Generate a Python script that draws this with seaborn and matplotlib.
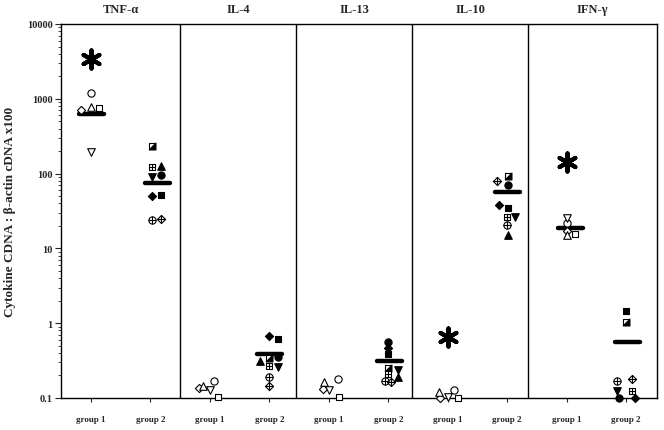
import numpy as np
import pandas as pd
import seaborn as sns
import matplotlib
matplotlib.use("Agg")
import matplotlib.pyplot as plt

# ---- data ----
cytokines = ["TNF-α", "IL-4", "IL-13", "IL-10", "IFN-γ"]
group_labels = ["group 1", "group 2"]

g1_symbols = ["circle", "diamond", "triangle", "square", "tri_down"]
g2_symbols = ["half_square", "boxed_plus", "tri_fill", "tri_down_fill", "circle_fill",
              "diamond_fill", "square_fill", "circle_plus", "diamond_plus"]

tnf_g1 = [1200, 700, 770, 750, 195]
il4_g1 = [0.169, 0.136, 0.145, 0.103, 0.128]
il13_g1 = [0.179, 0.132, 0.164, 0.103, 0.128]
il10_g1 = [0.128, 0.10, 0.12, 0.10, 0.103]
ifn_g1 = [21.8, 17, 15.1, 15.6, 25.5]

tnf_g2 = [234, 122, 125, 90, 95, 50, 52, 24, 25]
il4_g2 = [0.343, 0.268, 0.313, 0.259, 0.353, 0.675, 0.615, 0.191, 0.145]
il13_g2 = [0.252, 0.209, 0.19, 0.24, 0.56, 0.466, 0.387, 0.169, 0.164]
il10_g2 = [93, 26, 15, 26, 70, 38, 35, 20.5, 80]
ifn_g2 = [1.04, 0.124, np.nan, 0.124, 0.1, 0.1, 1.46, 0.169, 0.179]

means_g1 = [630, np.nan, np.nan, np.nan, 18.7]
means_g2 = [75, 0.387, 0.313, 57, 0.56]
asterisk_g1 = [3400, np.nan, np.nan, 0.65, 143]

# ---- layout: horizontal nudges so overlapping symbols stay visible ----
nudge_g1 = [[0, -0.17, 0, 0.14, 0],
            [0.07, -0.18, -0.12, 0.14, 0],
            [0.15, -0.10, -0.08, 0.17, 0],
            [0.10, -0.13, -0.15, 0.17, 0],
            [0, 0, 0, 0.14, 0]]
nudge_g2 = [[0.03, 0.02, 0.18, 0.02, 0.17, 0.02, 0.17, 0.02, 0.18],
            [0, 0, -0.15, 0.15, 0.15, 0, 0.15, 0, 0],
            [0, 0, 0.17, 0.17, 0, 0, 0, -0.06, 0.04],
            [0.02, 0, 0.02, 0.13, 0.02, -0.13, 0.02, 0, -0.17],
            [0, 0.1, 0, -0.15, -0.12, 0.15, 0, -0.15, 0.1]]
mean_nudge_g1 = [0, 0, 0, 0, 0.07]
mean_nudge_g2 = [0.12, 0, 0.02, 0, 0.03]
dividers = [1.5, 3.45, 5.4, 7.35]

values_g1 = [tnf_g1, il4_g1, il13_g1, il10_g1, ifn_g1]
values_g2 = [tnf_g2, il4_g2, il13_g2, il10_g2, ifn_g2]

records = []
for i, cyto in enumerate(cytokines):
    for sym, v, dx in zip(g1_symbols, values_g1[i], nudge_g1[i]):
        records.append({"cytokine": cyto, "x": 2 * i + dx, "value": v, "symbol": sym})
    for sym, v, dx in zip(g2_symbols, values_g2[i], nudge_g2[i]):
        records.append({"cytokine": cyto, "x": 2 * i + 1 + dx, "value": v, "symbol": sym})
df = pd.DataFrame(records).dropna()

lower_right = [(-1, -1), (1, -1), (1, 1), (-1, -1)]
# symbol -> list of layers (marker, face colour, size scale)
STYLES = {
    "circle": [("o", "white", 1.0)],
    "diamond": [("D", "white", 0.8)],
    "triangle": [("^", "white", 1.05)],
    "square": [("s", "white", 0.95)],
    "tri_down": [("v", "white", 1.05)],
    "half_square": [("s", "white", 0.95), (lower_right, "black", 0.95)],
    "boxed_plus": [("s", "white", 0.95), ("+", None, 0.95)],
    "tri_fill": [("^", "black", 1.05)],
    "tri_down_fill": [("v", "black", 1.05)],
    "circle_fill": [("o", "black", 1.0)],
    "diamond_fill": [("D", "black", 0.8)],
    "square_fill": [("s", "black", 0.95)],
    "circle_plus": [("o", "white", 1.0), ("+", None, 1.0)],
    "diamond_plus": [("D", "white", 0.8), ("+", None, 1.1)],
}
BASE = 5.2  # marker size in points

sns.set_theme(style="ticks")
plt.rcParams["font.family"] = ["Liberation Serif", "DejaVu Serif"]
plt.rcParams["font.weight"] = "bold"

fig = plt.figure(figsize=(6.64, 4.31), dpi=100)
ax = fig.add_axes([61 / 664, 1 - 399 / 431, 596 / 664, 374 / 431])

for sym, layers in STYLES.items():
    sub = df[df["symbol"] == sym]
    if sub.empty:
        continue
    for marker, face, scale in layers:
        size = (BASE * scale) ** 2
        if face is None:
            sns.scatterplot(data=sub, x="x", y="value", marker=marker, s=size,
                            color="black", linewidth=0.8, ax=ax, clip_on=False,
                            zorder=4, legend=False)
        else:
            sns.scatterplot(data=sub, x="x", y="value", marker=marker, s=size,
                            facecolor=face, edgecolor="black", linewidth=0.8,
                            ax=ax, clip_on=False, zorder=3, legend=False)

# group means
for i in range(len(cytokines)):
    for j, (m, dx) in enumerate([(means_g1[i], mean_nudge_g1[i]),
                                 (means_g2[i], mean_nudge_g2[i])]):
        if np.isnan(m):
            continue
        xc = 2 * i + j + dx
        ax.plot([xc - 0.21, xc + 0.21], [m, m], color="black", lw=3.2,
                solid_capstyle="round", zorder=2)

# significance asterisks
ast = pd.DataFrame({"x": [2 * i for i in range(len(cytokines))], "value": asterisk_g1}).dropna()
sns.scatterplot(data=ast, x="x", y="value", marker=(6, 2, 0), s=170, color="black",
                linewidth=3.0, ax=ax, legend=False, zorder=4)

for d in dividers:
    ax.axvline(d, color="black", lw=1.0, zorder=1)

ax.set_yscale("log")
ax.set_ylim(0.1, 10000)
ax.set_xlim(-0.505, 9.52)
ax.set_yticks([0.1, 1, 10, 100, 1000, 10000])
ax.set_yticklabels(["0.1", "1", "10", "100", "1000", "10000"], fontsize=7.5, fontweight="bold")
ax.set_xticks(range(10))
ax.set_xticklabels(group_labels * 5, fontsize=6.5, fontweight="bold")
ax.tick_params(axis="x", length=3, width=0.8, pad=9)
ax.tick_params(axis="y", which="major", length=4, width=0.8, pad=2)
ax.tick_params(axis="y", which="minor", length=2, width=0.6)
for sp in ax.spines.values():
    sp.set_linewidth(1.0)
    sp.set_color("black")
ax.set_xlabel("")
ax.set_ylabel("Cytokine CDNA : β-actin cDNA x100", fontsize=9.5, fontweight="bold", labelpad=8)

edges = [-0.505] + dividers + [9.52]
for i, cyto in enumerate(cytokines):
    ax.text((edges[i] + edges[i + 1]) / 2, 1.04, cyto, transform=ax.get_xaxis_transform(),
            ha="center", va="center", fontsize=9, fontweight="bold")

fig.savefig("out.png", dpi=100)
